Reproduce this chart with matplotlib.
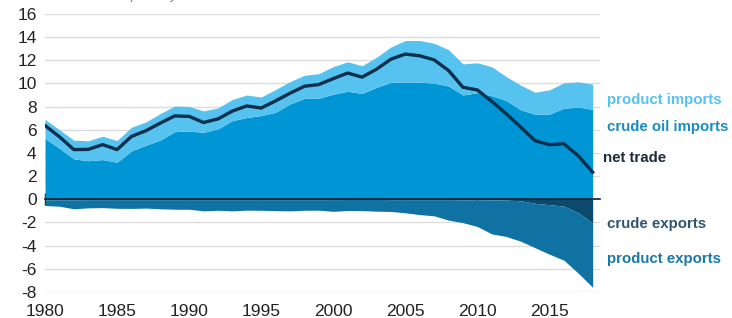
import numpy as np
import matplotlib
matplotlib.use("Agg")
import matplotlib.pyplot as plt

plt.rcParams['font.family'] = ['Liberation Sans', 'DejaVu Sans']
plt.rcParams['axes.unicode_minus'] = False

years = list(range(1980, 2019))

# million barrels per day
crude_imports = [5.26, 4.40, 3.49, 3.33, 3.43, 3.20, 4.18, 4.67, 5.11, 5.84,
                 5.89, 5.78, 6.08, 6.79, 7.06, 7.23, 7.51, 8.23, 8.71, 8.73,
                 9.07, 9.33, 9.14, 9.67, 10.09, 10.13, 10.12, 10.03, 9.78, 9.01,
                 9.21, 8.94, 8.53, 7.73, 7.34, 7.36, 7.85, 7.97, 7.77]
product_imports = [1.65, 1.60, 1.62, 1.72, 2.01, 1.87, 2.04, 2.01, 2.29, 2.22,
                   2.13, 1.85, 1.81, 1.83, 1.94, 1.60, 1.97, 1.93, 2.00, 2.12,
                   2.39, 2.54, 2.39, 2.59, 3.06, 3.58, 3.59, 3.44, 3.14, 2.68,
                   2.58, 2.50, 2.07, 2.13, 1.90, 2.09, 2.21, 2.17, 2.17]
crude_exports = [0.04, 0.04, 0.04, 0.03, 0.03, 0.03, 0.03, 0.03, 0.03, 0.03,
                 0.03, 0.03, 0.03, 0.03, 0.03, 0.03, 0.03, 0.03, 0.03, 0.03,
                 0.03, 0.02, 0.01, 0.01, 0.03, 0.03, 0.03, 0.03, 0.03, 0.04,
                 0.04, 0.05, 0.07, 0.13, 0.35, 0.47, 0.59, 1.16, 2.05]
product_exports = [0.50, 0.56, 0.78, 0.71, 0.69, 0.75, 0.76, 0.73, 0.79, 0.83,
                   0.83, 0.97, 0.92, 0.97, 0.91, 0.92, 0.95, 0.97, 0.92, 0.91,
                   1.01, 0.95, 0.97, 1.02, 1.02, 1.14, 1.29, 1.40, 1.77, 1.98,
                   2.31, 2.94, 3.14, 3.49, 3.83, 4.27, 4.67, 5.22, 5.55]

x = np.array(years)
ci = np.array(crude_imports)
ti = ci + np.array(product_imports)
ce = -np.array(crude_exports)
te = ce - np.array(product_exports)
net = ti + te

c_prod_imp = '#56c2f0'
c_crude_imp = '#0096d6'
c_prod_exp = '#0f72a3'
c_crude_exp = '#0b4a6c'
c_net = '#0c2f4c'

fig = plt.figure(figsize=(7.32, 3.18), dpi=100)
ax = fig.add_axes([0.0615, 0.082, 0.758, 0.874])

ax.fill_between(x, 0, ci, color=c_crude_imp, lw=0, zorder=2)
ax.fill_between(x, ci, ti, color=c_prod_imp, lw=0, zorder=2)
ax.fill_between(x, 0, ce, color=c_crude_exp, lw=0, zorder=2)
ax.fill_between(x, ce, te, color=c_prod_exp, lw=0, zorder=2)
ax.plot(x, net, color=c_net, lw=2.4, zorder=3, solid_joinstyle='round')

ax.set_xlim(1980, 2018.5)
ax.set_ylim(-8, 16)
ax.set_yticks(range(-8, 17, 2))
for v in range(-8, 17, 2):
    if v != 0:
        ax.axhline(v, color='#dcdcdc', lw=1, zorder=1)

for s in ['top', 'right', 'left']:
    ax.spines[s].set_visible(False)
ax.spines['bottom'].set_position(('data', 0))
ax.spines['bottom'].set_color('#0c1c2c')
ax.spines['bottom'].set_linewidth(1.2)
ax.spines['bottom'].set_zorder(4)
ax.set_xticks(range(1980, 2019, 5))
ax.tick_params(axis='x', direction='inout', length=9, width=1, color='#0c1c2c',
               labelbottom=False)
ax.tick_params(axis='y', length=0, labelsize=12.5, labelcolor='#222222', pad=6)

sec = ax.secondary_xaxis('bottom')
sec.set_xticks(range(1980, 2019, 5))
sec.tick_params(length=0, labelsize=12.5, labelcolor='#222222', pad=9)
sec.spines['bottom'].set_visible(False)

labels = [("product imports", 8.6, c_prod_imp),
          ("crude oil imports", 6.2, '#1a8cc4'),
          ("net trade", 3.6, '#1c2a3a'),
          ("crude exports", -2.1, '#2e5673'),
          ("product exports", -5.15, '#1b78a8')]
for txt, yv, col in labels:
    ax.text(1.013 if txt != "net trade" else 1.006, yv, txt, color=col,
            fontsize=10.8, fontweight='bold', va='center',
            transform=ax.get_yaxis_transform(), clip_on=False)

fig.text(0.055, 1.015, "million barrels per day", color='#888888', fontsize=10,
         va='center')

fig.savefig("out.png", dpi=100)
